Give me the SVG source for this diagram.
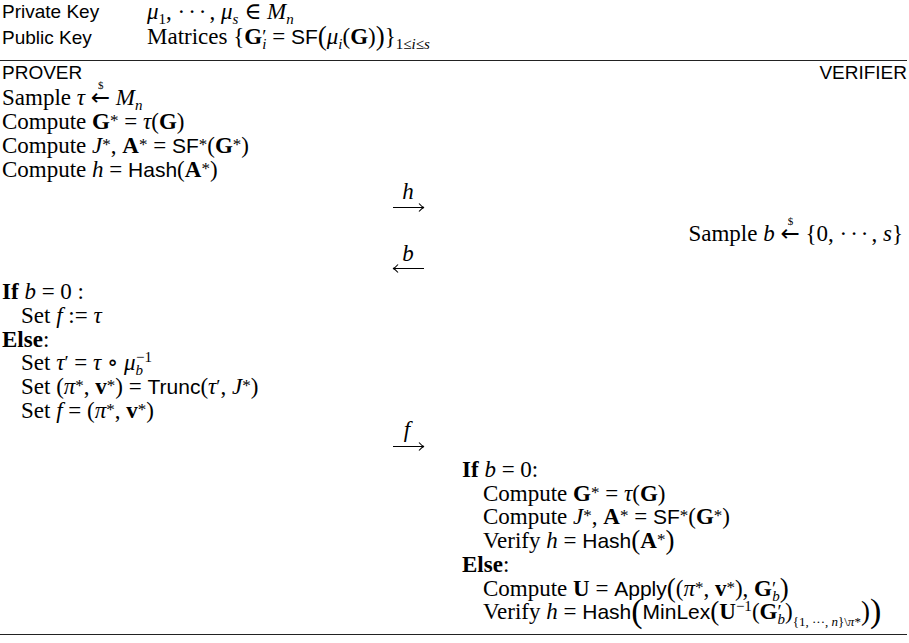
<svg xmlns="http://www.w3.org/2000/svg" width="909" height="643" viewBox="0 0 909 643">
<style>
text{font-family:"Liberation Serif","DejaVu Serif",serif;font-size:23px;fill:#000}
.i{font-style:italic}
.b{font-weight:bold}
.s{font-family:"Liberation Sans","DejaVu Sans",sans-serif;font-size:21px}
.h{font-family:"Liberation Sans","DejaVu Sans",sans-serif;font-size:19px}
.sp{font-size:15px;baseline-shift:8px}
.st{font-size:17px;baseline-shift:3px}
.pr{font-size:19px;baseline-shift:1px}
.sb{font-size:15px;baseline-shift:-5px}
.ssb{font-size:13px;baseline-shift:-7px}
.ar{font-family:"DejaVu Sans",sans-serif}
.dl{font-size:11px;baseline-shift:16px}
.dots{letter-spacing:3px}
.big{font-size:27px;baseline-shift:-1px}
.Big{font-size:34px;baseline-shift:-3px}
.rule{stroke:#222;stroke-width:1.2}
.conn{fill:none;stroke:#000;stroke-width:1.1}
</style>
<g id="keys">
<text class="h" x="2" y="18">Private Key</text>
<text x="147" y="19"><tspan class="i">μ</tspan><tspan class="sb">1</tspan>, <tspan class="dots">···</tspan>, <tspan class="i">μ</tspan><tspan class="sb i">s</tspan> ∈ <tspan class="i">M</tspan><tspan class="sb i">n</tspan></text>
<text class="h" x="2" y="44">Public Key</text>
<text x="147" y="44">Matrices {<tspan class="b">G</tspan><tspan class="pr">′</tspan><tspan class="sb i" dx="-4">i</tspan> = <tspan class="s">SF</tspan><tspan class="big">(</tspan><tspan class="i">μ</tspan><tspan class="sb i">i</tspan>(<tspan class="b">G</tspan>)<tspan class="big">)</tspan>}<tspan class="sb">1≤<tspan class="i">i</tspan>≤<tspan class="i">s</tspan></tspan></text>
</g>
<line class="rule" x1="0" y1="60.5" x2="907" y2="60.5"/>
<g id="prover">
<text class="h" x="2" y="79">PROVER</text>
<text x="2" y="105">Sample <tspan class="i">τ</tspan> <tspan class="ar">←</tspan><tspan class="dl" dx="-12">$</tspan><tspan dx="6.5"> </tspan><tspan class="i">M</tspan><tspan class="sb i">n</tspan></text>
<text x="2" y="129">Compute <tspan class="b">G</tspan><tspan class="st">*</tspan> = <tspan class="i">τ</tspan>(<tspan class="b">G</tspan>)</text>
<text x="2" y="153">Compute <tspan class="i">J</tspan><tspan class="st">*</tspan>, <tspan class="b">A</tspan><tspan class="st">*</tspan> = <tspan class="s">SF</tspan><tspan class="st">*</tspan>(<tspan class="b">G</tspan><tspan class="st">*</tspan>)</text>
<text x="2" y="177">Compute <tspan class="i">h</tspan> = <tspan class="s">Hash</tspan>(<tspan class="b">A</tspan><tspan class="st">*</tspan>)</text>
<text x="2" y="299"><tspan class="b">If</tspan> <tspan class="i">b</tspan> = 0 :</text>
<text x="21" y="323">Set <tspan class="i">f</tspan> := <tspan class="i">τ</tspan></text>
<text x="2" y="347"><tspan class="b">Else</tspan>:</text>
<text x="21" y="370">Set <tspan class="i">τ</tspan><tspan class="pr">′</tspan> = <tspan class="i">τ</tspan> ∘ <tspan class="i">μ</tspan><tspan class="sb i">b</tspan><tspan class="sp" dx="-7">−1</tspan></text>
<text x="21" y="394">Set (<tspan class="i">π</tspan><tspan class="st">*</tspan>, <tspan class="b">v</tspan><tspan class="st">*</tspan>) = <tspan class="s">Trunc</tspan>(<tspan class="i">τ</tspan><tspan class="pr">′</tspan>, <tspan class="i">J</tspan><tspan class="st">*</tspan>)</text>
<text x="21" y="418">Set <tspan class="i">f</tspan> = (<tspan class="i">π</tspan><tspan class="st">*</tspan>, <tspan class="b">v</tspan><tspan class="st">*</tspan>)</text>
</g>
<g id="verifier">
<text class="h" x="907" y="79" text-anchor="end">VERIFIER</text>
<text x="903" y="241" text-anchor="end">Sample <tspan class="i">b</tspan> <tspan class="ar">←</tspan><tspan class="dl" dx="-12">$</tspan><tspan dx="6.5"> </tspan>{0, <tspan class="dots">···</tspan>, <tspan class="i">s</tspan>}</text>
<text x="462" y="477"><tspan class="b">If</tspan> <tspan class="i">b</tspan> = 0:</text>
<text x="483" y="501">Compute <tspan class="b">G</tspan><tspan class="st">*</tspan> = <tspan class="i">τ</tspan>(<tspan class="b">G</tspan>)</text>
<text x="483" y="524">Compute <tspan class="i">J</tspan><tspan class="st">*</tspan>, <tspan class="b">A</tspan><tspan class="st">*</tspan> = <tspan class="s">SF</tspan><tspan class="st">*</tspan>(<tspan class="b">G</tspan><tspan class="st">*</tspan>)</text>
<text x="483" y="548">Verify <tspan class="i">h</tspan> = <tspan class="s">Hash</tspan><tspan class="big">(</tspan><tspan class="b">A</tspan><tspan class="st">*</tspan><tspan class="big">)</tspan></text>
<text x="462" y="572"><tspan class="b">Else</tspan>:</text>
<text x="483" y="596">Compute <tspan class="b">U</tspan> = <tspan class="s">Apply</tspan><tspan class="big">(</tspan>(<tspan class="i">π</tspan><tspan class="st">*</tspan>, <tspan class="b">v</tspan><tspan class="st">*</tspan>), <tspan class="b">G</tspan><tspan class="pr">′</tspan><tspan class="sb i" dx="-4">b</tspan><tspan class="big">)</tspan></text>
<text x="483" y="619">Verify <tspan class="i">h</tspan> = <tspan class="s">Hash</tspan><tspan class="Big">(</tspan><tspan class="s">MinLex</tspan><tspan class="big">(</tspan><tspan class="b">U</tspan><tspan class="sp">−1</tspan>(<tspan class="b">G</tspan><tspan class="pr">′</tspan><tspan class="sb i" dx="-4">b</tspan>)<tspan class="ssb">{1, ···, <tspan class="i">n</tspan>}\<tspan class="i">π</tspan>*</tspan><tspan class="big">)</tspan><tspan class="Big">)</tspan></text>
</g>
<line class="rule" x1="0" y1="634.5" x2="907" y2="634.5"/>
<g id="connectors">
<g id="msg-h">
<text class="i" x="408" y="199" text-anchor="middle" font-size="15">h</text>
<path class="conn" d="M393 207.5H424M419 203.5Q422 207 424 207.5Q422 208 419 211.5"/>
</g>
<g id="msg-b">
<text class="i" x="408" y="261" text-anchor="middle" font-size="15">b</text>
<path class="conn" d="M424 268.5H393M398 264.5Q395 268 393 268.5Q395 269 398 272.5"/>
</g>
<g id="msg-f">
<text class="i" x="407" y="437" text-anchor="middle" font-size="15">f</text>
<path class="conn" d="M393 446.5H424M419 442.5Q422 446 424 446.5Q422 447 419 450.5"/>
</g>
</g>
</svg>
